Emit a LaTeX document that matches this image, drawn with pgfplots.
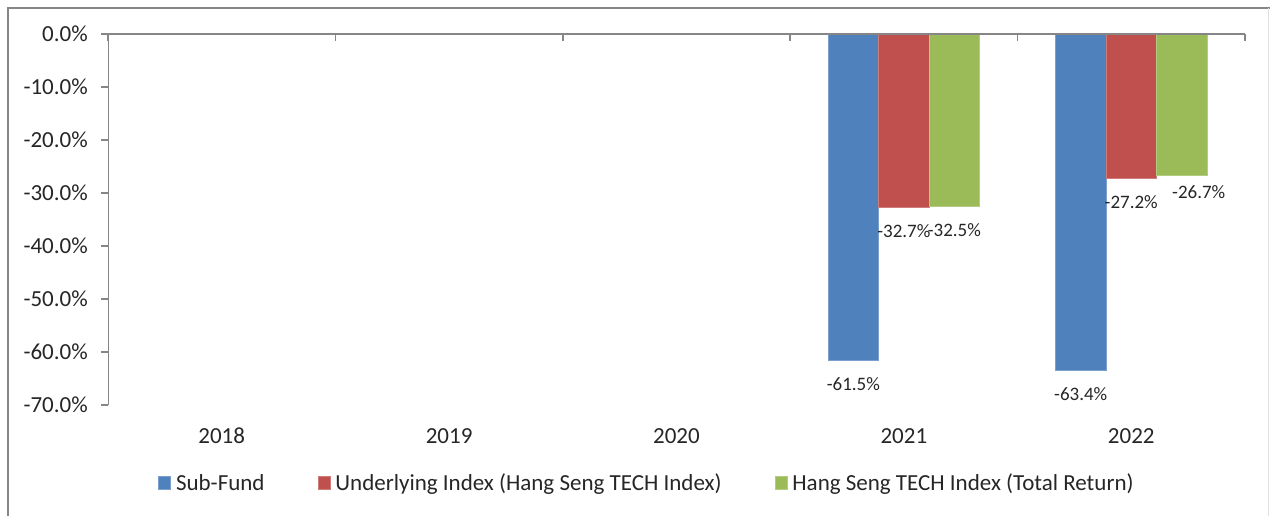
\documentclass[border=0pt]{standalone}
\usepackage{pgfplots}
\pgfplotsset{compat=1.18}
\usepackage{fontspec}
\setmainfont{Carlito}
\definecolor{cblue}{HTML}{4F81BD}
\definecolor{cred}{HTML}{C0504D}
\definecolor{cgreen}{HTML}{9BBB59}
\definecolor{axgray}{HTML}{868686}
\definecolor{txt}{HTML}{262626}
\begin{document}
\begin{tikzpicture}[x=1pt,y=1pt,font=\fontsize{23}{27}\selectfont,every node/.append style={text=txt}]
\useasboundingbox (0,0) rectangle (1270,516);
\draw[axgray, line width=2pt] (8,0) -- (8,508) -- (1270,508);
\draw[black!12, line width=1pt] (1268,0) -- (1268,508);
\begin{axis}[
  at={(108pt,111pt)}, anchor=south west,
  scale only axis, width=1137pt, height=371pt,
  xmin=-0.5, xmax=4.5, ymin=-70, ymax=0,
  ybar=0pt, bar width=50.5pt,
  axis line style={draw=none},
  xtick={0,1,2,3,4}, xticklabels={2018,2019,2020,2021,2022},
  minor xtick={-0.5,0.5,1.5,2.5,3.5,4.5},
  major x tick style={draw=none},
  minor x tick style={axgray, line width=1.5pt, yshift=-7pt},
  xtick pos=right, xticklabel pos=left,
  ytick={-70,-60,-50,-40,-30,-20,-10,0},
  ytick pos=left,
  y tick style={axgray, line width=1.5pt},
  tick align=outside,
  major tick length=7pt, minor tick length=7pt,
  yticklabel={\pgfmathprintnumber[fixed,fixed zerofill,precision=1,assume math mode=true]{\tick}\%},
  yticklabel style={anchor=east, inner sep=0pt, xshift=-13pt},
  xticklabel style={anchor=north, inner sep=0pt, yshift=-16pt},
  nodes near coords={\pgfmathprintnumber[fixed,fixed zerofill,precision=1,assume math mode=true]{\pgfplotspointmeta}\%},
  every node near coord/.append style={inner sep=0pt, yshift=-17pt, font=\fontsize{19}{23}\selectfont},
  legend style={at={(axis description cs:0.044,-0.2102)}, anchor=west, draw=none, fill=none, inner sep=0pt,
    nodes={inner sep=0pt},
    /tikz/every odd column/.append style={column sep=5pt},
    /tikz/every even column/.append style={column sep=53pt}},
  legend columns=3,
  legend image code/.code={\fill[#1] (0pt,-6.5pt) rectangle (12pt,6.5pt);},
]
\addplot[fill=cblue, draw=cblue!75!white, line width=0.8pt] coordinates {(3,-61.5) (4,-63.4)};
\addplot[fill=cred, draw=cred!75!white, line width=0.8pt] coordinates {(3,-32.7) (4,-27.2)};
\addplot[fill=cgreen, draw=cgreen!75!white, line width=0.8pt,
  coordinate style/.condition={\coordindex==1}{xshift=17pt,yshift=7pt}] coordinates {(3,-32.5) (4,-26.7)};
\legend{Sub-Fund, Underlying Index (Hang Seng TECH Index), Hang Seng TECH Index (Total Return)}
\draw[axgray, line width=1.5pt] (axis cs:-0.5,-70) -- (axis cs:-0.5,0) -- (axis cs:4.5,0);
\end{axis}
\end{tikzpicture}
\end{document}
